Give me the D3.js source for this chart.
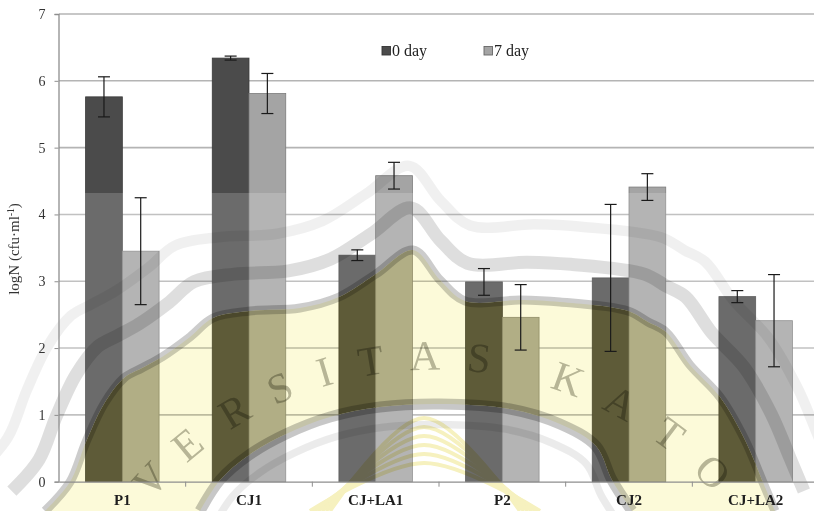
<!DOCTYPE html>
<html>
<head>
<meta charset="utf-8">
<script src="https://cdn.jsdelivr.net/npm/d3@7/dist/d3.min.js"></script>
<style>
  html, body { margin: 0; padding: 0; background: #fff; }
  svg { display: block; }
  text { font-family: "Liberation Serif", "Times New Roman", serif; }
</style>
</head>
<body>
<svg id="chart" width="814" height="511"></svg>
<script>
// ---- data ----
const categories = ["P1", "CJ1", "CJ+LA1", "P2", "CJ2", "CJ+LA2"];
const seriesNames = ["0 day", "7 day"];
const day0 = [5.76, 6.34, 3.39, 2.99, 3.05, 2.77];
const day0Err = [0.30, 0.03, 0.08, 0.20, 1.10, 0.09];
const day7 = [3.45, 5.81, 4.58, 2.46, 4.41, 2.41];
const day7Err = [0.80, 0.30, 0.20, 0.49, 0.20, 0.69];
const yTicks = [0, 1, 2, 3, 4, 5, 6, 7];
const yTitle = "logN (cfu·ml";
const yTitleSup = "-1";

// rows built from the arrays above
const rows = categories.map((c, i) => ({
  cat: c,
  bars: [
    { series: seriesNames[0], value: day0[i], err: day0Err[i] },
    { series: seriesNames[1], value: day7[i], err: day7Err[i] }
  ]
}));

const W = 814, H = 511;
const svg = d3.select("#chart");

const y = d3.scaleLinear().domain([0, 7]).range([481.7, 14]);
const x0 = d3.scaleBand().domain(categories).range([59, 819])
  .paddingInner(0.42).paddingOuter(0.21);
const x1 = d3.scaleBand().domain(seriesNames).range([0, x0.bandwidth()]);

const plain = { "0 day": "#4b4b4b", "7 day": "#a4a4a4" };
const olive = { "0 day": "#5e5b38", "7 day": "#b1ae85" };
const barStroke = { "0 day": "#3a3a3a", "7 day": "#7c7c7c" };

// ---- gridlines and bars ----
function drawGrid(g, color) {
  g.selectAll("line.grid").data(yTicks.filter(t => t > 0)).join("line")
    .attr("class", "grid")
    .attr("x1", 59).attr("x2", W)
    .attr("y1", d => y(d)).attr("y2", d => y(d))
    .attr("stroke", color).attr("stroke-width", 1.6);
}
function drawBars(g, palette, strokePalette) {
  const grp = g.selectAll("g.cat").data(rows).join("g")
    .attr("class", "cat")
    .attr("transform", d => `translate(${x0(d.cat)},0)`);
  grp.selectAll("rect").data(d => d.bars).join("rect")
    .attr("x", d => x1(d.series))
    .attr("width", x1.bandwidth())
    .attr("y", d => y(d.value))
    .attr("height", d => y(0) - y(d.value))
    .attr("fill", d => palette[d.series])
    .attr("stroke", d => strokePalette[d.series])
    .attr("stroke-width", 0.8);
}

const base = svg.append("g");
drawGrid(base, "#b4b4b4");
drawBars(base, plain, barStroke);

// ---- faint crest overlay ----
const C = [435, 745];
const outerPts = [[45,511],[70,482],[86,442],[104,404],[124,378],[142,368],[162,357],[190,337],[213,318],[250,311],[300,308],[339,297],[376,274],[413,250],[440,280],[465,301],[520,300],[560,302],[628,311],[648,322],[666,332],[690,365],[720,397],[745,440],[762,480],[775,511]];
const innerPts = [[632,511],[612,480],[596,446],[560,424],[510,409],[440,404],[380,407],[330,417],[286,434],[249,455],[220,480],[200,511]];
const smooth = d3.line().curve(d3.curveCatmullRom.alpha(0.5));
const regionPath = smooth(outerPts) + "L" + smooth(innerPts).slice(1) + "Z";

svg.append("defs").append("clipPath").attr("id", "crestClip")
  .append("path").attr("d", regionPath);

const wm = svg.append("g");
// lighter veil over the lower part
wm.append("rect").attr("x", 0).attr("y", 193).attr("width", W).attr("height", H - 193)
  .attr("fill", "#fff").attr("opacity", 0.18);

// tinted band of the crest
const tint = wm.append("g").attr("clip-path", "url(#crestClip)");
tint.append("rect").attr("x", 0).attr("y", 0).attr("width", W).attr("height", H).attr("fill", "#fcfad9");
drawGrid(tint, "#bdbb9f");
drawBars(tint, olive, { "0 day": "#4d4a2c", "7 day": "#908d68" });

// chevrons in the emblem
const chev = wm.append("g").style("mix-blend-mode", "multiply");
d3.range(6).forEach(k => {
  const top = 418 + k * 9;
  chev.append("path")
    .attr("d", smooth([[330 - k * 4, 511], [424, top], [520 + k * 4, 511]]))
    .attr("fill", "none").attr("stroke", "#f6f1bf").attr("stroke-width", 4);
});

// ring bands
const ringScale = (s) => `translate(${C[0]},${C[1]}) scale(${s}) translate(${-C[0]},${-C[1]})`;
const rings = wm.append("g").attr("fill", "none").attr("stroke", "#000");
rings.append("path").attr("d", smooth(outerPts))
  .attr("stroke-opacity", 0.2).attr("stroke-width", 9);
rings.append("path").attr("d", smooth(outerPts)).attr("transform", ringScale(1.085))
  .attr("stroke-opacity", 0.13).attr("stroke-width", 12);
rings.append("path").attr("d", smooth(outerPts)).attr("transform", ringScale(1.17))
  .attr("stroke-opacity", 0.06).attr("stroke-width", 9);
rings.append("path").attr("d", smooth(innerPts))
  .attr("stroke-opacity", 0.22).attr("stroke-width", 11);
rings.append("path").attr("d", smooth(innerPts)).attr("transform", ringScale(0.94))
  .attr("stroke-opacity", 0.08).attr("stroke-width", 8);

// lettering around the crest
const letters = ["V","E","R","S","I","T","A","S","K","A","T","O"];
const angles = [-47, -39.5, -31, -23.5, -16.5, -9.5, -1.5, 6.5, 20, 28.5, 37, 45.5];
const rText = 390;
wm.append("g").style("mix-blend-mode", "multiply")
  .selectAll("text").data(letters).join("text")
  .attr("transform", (d, i) => {
    const a = angles[i] * Math.PI / 180;
    const px = C[0] + rText * Math.sin(a), py = C[1] - rText * Math.cos(a);
    return `translate(${px},${py}) rotate(${angles[i]})`;
  })
  .attr("text-anchor", "middle").attr("dy", "0.35em")
  .attr("font-size", 42)
  .attr("fill", "#b9b9b0")
  .text(d => d);

// ---- error bars ----
const eb = svg.append("g").attr("stroke", "#1a1a1a").attr("stroke-width", 1.2);
rows.forEach(r => {
  r.bars.forEach(b => {
    const cx = x0(r.cat) + x1(b.series) + x1.bandwidth() / 2;
    const y1 = y(b.value + b.err), y2 = y(b.value - b.err);
    eb.append("line").attr("x1", cx).attr("x2", cx).attr("y1", y1).attr("y2", y2);
    eb.append("line").attr("x1", cx - 6).attr("x2", cx + 6).attr("y1", y1).attr("y2", y1);
    eb.append("line").attr("x1", cx - 6).attr("x2", cx + 6).attr("y1", y2).attr("y2", y2);
  });
});

// ---- axes ----
const yAxis = d3.axisLeft(y).tickValues(yTicks).tickSize(4).tickPadding(9).tickFormat(d3.format("d"));
const gy = svg.append("g").attr("transform", "translate(58.5,0)").call(yAxis);
gy.select(".domain").attr("stroke", "#8e8e8e").attr("stroke-width", 1.3);
gy.selectAll(".tick line").attr("stroke", "#8e8e8e");
gy.selectAll(".tick text").attr("font-size", 14).attr("fill", "#333")
  .style("font-family", "'Liberation Serif', serif");

const bounds = categories.map(c => x0(c) - x0.step() * x0.paddingInner() / 2);
const xAxis = d3.axisBottom(x0).tickSize(0).tickPadding(13);
const gx = svg.append("g").attr("transform", `translate(0,${y(0)})`).call(xAxis);
gx.select(".domain").attr("stroke", "#8e8e8e").attr("stroke-width", 1.3);
gx.selectAll(".tick text").attr("font-size", 15).attr("fill", "#1e1e1e")
  .attr("font-weight", "bold")
  .style("font-family", "'Liberation Serif', serif");
gx.selectAll("line.sep").data(bounds.slice(1)).join("line")
  .attr("class", "sep")
  .attr("x1", d => d).attr("x2", d => d).attr("y1", 0).attr("y2", 5)
  .attr("stroke", "#8e8e8e");

// y title
const yt = svg.append("text")
  .attr("transform", "translate(19,249) rotate(-90)")
  .attr("text-anchor", "middle").attr("font-size", 15).attr("fill", "#333");
yt.append("tspan").text(yTitle);
yt.append("tspan").attr("dy", -5).attr("font-size", 9.5).text(yTitleSup);
yt.append("tspan").attr("dy", 5).text(")");

// ---- legend ----
const legendX = [382, 484];
const lg = svg.append("g");
seriesNames.forEach((s, i) => {
  lg.append("rect").attr("x", legendX[i]).attr("y", 46.5).attr("width", 8.5).attr("height", 8.5)
    .attr("fill", plain[s]).attr("stroke", i === 0 ? "#333" : "#666").attr("stroke-width", 0.9);
  lg.append("text").attr("x", legendX[i] + 10).attr("y", 56).attr("font-size", 16)
    .attr("fill", "#222").text(s);
});
</script>
</body>
</html>
